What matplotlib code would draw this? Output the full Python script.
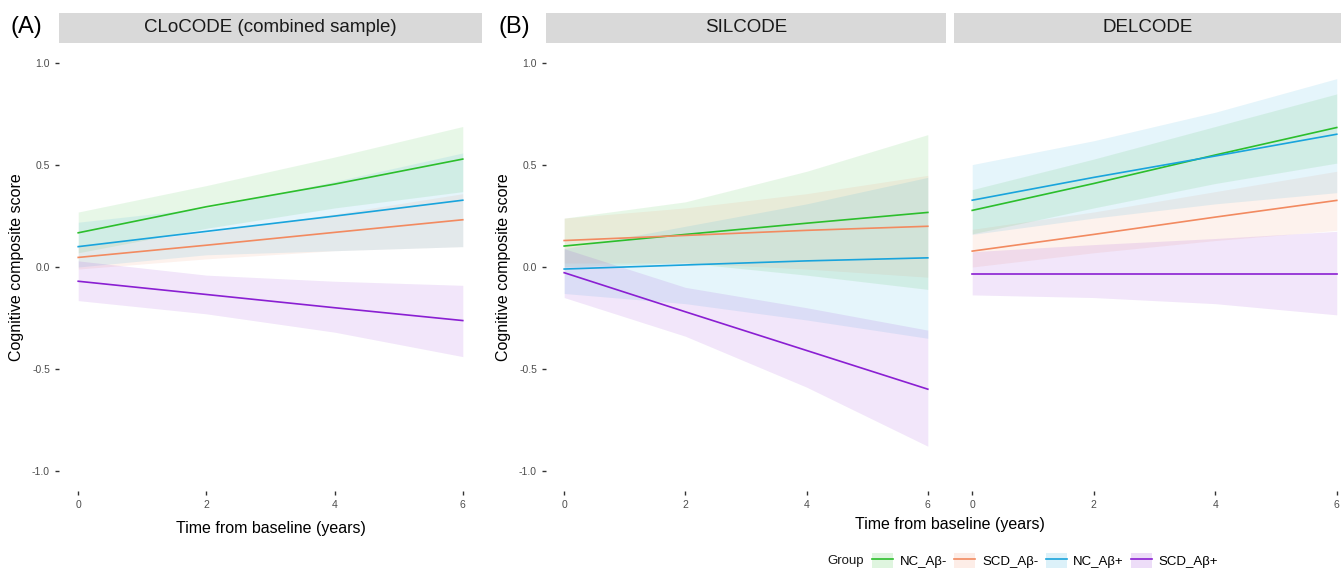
import numpy as np
import matplotlib
matplotlib.use("Agg")
import matplotlib.pyplot as plt
from matplotlib.patches import Patch, Rectangle
from matplotlib.lines import Line2D

plt.rcParams['font.family'] = ['Liberation Sans', 'DejaVu Sans']

# data
years = [0, 2, 4, 6]
groups = ['NC_Aβ-', 'SCD_Aβ-', 'NC_Aβ+', 'SCD_Aβ+']
colors = ['#2CBE2C', '#F28A60', '#19A4DC', '#8A1FD2']

# CLoCODE (combined sample)
clo_fit = [[0.168, 0.296, 0.407, 0.53],
           [0.047, 0.107, 0.17, 0.232],
           [0.10, 0.175, 0.25, 0.328],
           [-0.07, -0.135, -0.20, -0.263]]
clo_lo = [[0.07, 0.19, 0.29, 0.37],
          [-0.01, 0.04, 0.08, 0.10],
          [0.0, 0.06, 0.08, 0.10],
          [-0.165, -0.23, -0.32, -0.44]]
clo_hi = [[0.27, 0.40, 0.54, 0.69],
          [0.10, 0.17, 0.26, 0.36],
          [0.22, 0.29, 0.42, 0.56],
          [0.03, -0.04, -0.07, -0.09]]

# SILCODE
sil_fit = [[0.103, 0.16, 0.215, 0.268],
           [0.13, 0.155, 0.18, 0.20],
           [-0.01, 0.01, 0.03, 0.045],
           [-0.028, -0.22, -0.41, -0.60]]
sil_lo = [[0.0, 0.02, -0.04, -0.11],
          [0.02, 0.02, -0.01, -0.05],
          [-0.13, -0.18, -0.26, -0.35],
          [-0.15, -0.34, -0.59, -0.88]]
sil_hi = [[0.24, 0.32, 0.47, 0.65],
          [0.24, 0.29, 0.36, 0.45],
          [0.09, 0.20, 0.31, 0.44],
          [0.09, -0.10, -0.20, -0.31]]

# DELCODE
del_fit = [[0.278, 0.41, 0.55, 0.685],
           [0.078, 0.16, 0.245, 0.327],
           [0.328, 0.44, 0.545, 0.652],
           [-0.035, -0.035, -0.035, -0.035]]
del_lo = [[0.163, 0.29, 0.41, 0.51],
          [0.0, 0.07, 0.13, 0.18],
          [0.16, 0.24, 0.31, 0.365],
          [-0.137, -0.15, -0.18, -0.235]]
del_hi = [[0.38, 0.53, 0.69, 0.85],
          [0.185, 0.27, 0.37, 0.47],
          [0.503, 0.62, 0.76, 0.925],
          [0.075, 0.11, 0.14, 0.175]]

W, H = 1341, 568
fig = plt.figure(figsize=(W / 100, H / 100), dpi=100)

def px_axes(x0, y0, x1, y1):
    # pixel box (top-left origin) -> figure axes
    return fig.add_axes([x0 / W, 1 - y1 / H, (x1 - x0) / W, (y1 - y0) / H])

def strip(x0, x1, label):
    fig.patches.append(Rectangle((x0 / W, 1 - 43 / H), (x1 - x0) / W, 30 / H,
                                 transform=fig.transFigure, facecolor='#D9D9D9',
                                 edgecolor='none'))
    fig.text((x0 + x1) / 2 / W, 1 - 28 / H, label, ha='center', va='center',
             fontsize=13.5, color='#1A1A1A')

def panel(ax, fit, lo, hi, xmax=6.3, ylabels=True):
    for i in range(len(groups)):
        ax.fill_between(years, lo[i], hi[i], color=colors[i], alpha=0.11, linewidth=0)
    for i in range(len(groups)):
        ax.plot(years, fit[i], color=colors[i], linewidth=1.2)
    ax.set_xlim(-0.3, xmax)
    ax.set_ylim(-1.1, 1.1)
    ax.set_xticks([0, 2, 4, 6])
    ax.set_yticks([-1.0, -0.5, 0.0, 0.5, 1.0])
    ax.set_yticklabels(['-1.0', '-0.5', '0.0', '0.5', '1.0'] if ylabels else [])
    ax.tick_params(labelsize=7.5, colors='#333333', labelcolor='#4D4D4D',
                   length=3, width=1)
    if not ylabels:
        ax.tick_params(axis='y', length=0)
    for s in ax.spines.values():
        s.set_visible(False)
    ax.set_facecolor('white')

# (A)
axA = px_axes(59, 43, 482, 491)
panel(axA, clo_fit, clo_lo, clo_hi)
strip(59, 482, 'CLoCODE (combined sample)')
axA.set_ylabel('Cognitive composite score', fontsize=11.5, labelpad=6)
axA.set_xlabel('Time from baseline (years)', fontsize=11.5, labelpad=8)

# (B)
axS = px_axes(546, 43, 946, 491)
panel(axS, sil_fit, sil_lo, sil_hi)
strip(546, 946, 'SILCODE')
axS.set_ylabel('Cognitive composite score', fontsize=11.5, labelpad=6)

axD = px_axes(954, 43, 1341, 491)
panel(axD, del_fit, del_lo, del_hi, xmax=6.07, ylabels=False)
strip(954, 1341, 'DELCODE')

fig.text(950 / W, 1 - 525 / H, 'Time from baseline (years)', ha='center',
         va='center', fontsize=11.5)

fig.text(11 / W, 1 - 27 / H, '(A)', ha='left', va='center', fontsize=17)
fig.text(498 / W, 1 - 27 / H, '(B)', ha='left', va='center', fontsize=17)

# legend
handles = [(Patch(facecolor=c, alpha=0.15, edgecolor='none'), Line2D([], [], color=c, lw=1.2))
           for c in colors]
fig.text(827 / W, 1 - 561 / H, 'Group', ha='left', va='center', fontsize=9.5,
         color='#1A1A1A')
fig.legend(handles, groups, loc='center left', bbox_to_anchor=(872 / W, 1 - 561 / H),
           ncol=4, frameon=False, fontsize=9.5, handlelength=1.6, handleheight=1.5,
           handletextpad=0.5, columnspacing=0.55, borderpad=0, borderaxespad=0)

fig.savefig('out.png', dpi=100)
